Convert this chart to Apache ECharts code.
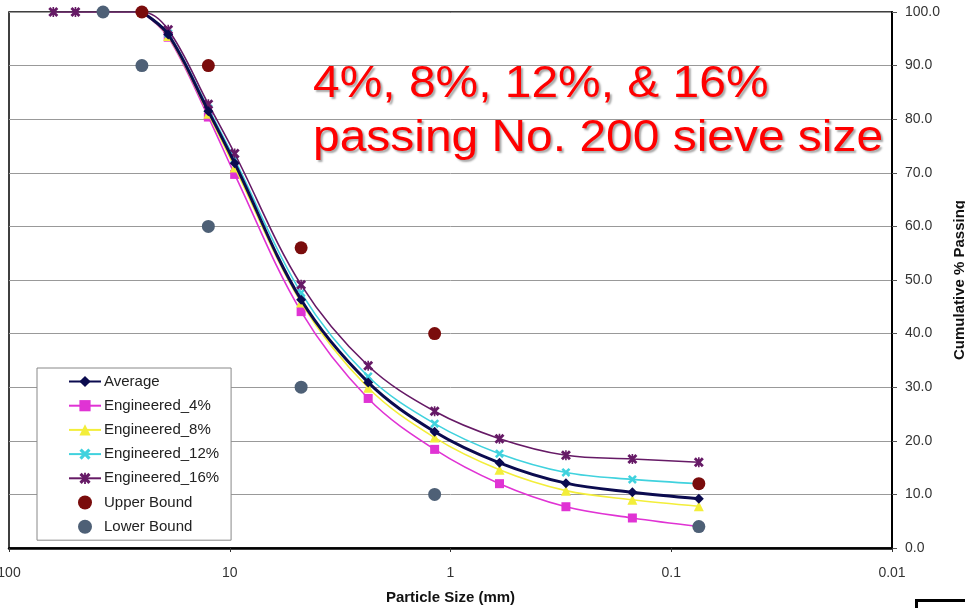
<!DOCTYPE html>
<html>
<head>
<meta charset="utf-8">
<script src="https://cdn.jsdelivr.net/npm/echarts@6/dist/echarts.min.js"></script>
<style>
  html, body { margin: 0; padding: 0; background: #fff; }
  #chart { width: 965px; height: 608px; }
</style>
</head>
<body>
<div id="chart"></div>
<script>
// Sieve sizes (mm)
const sievesLong = [63, 50, 37.5, 25, 19, 12.5, 9.5, 4.75, 2.36, 1.18, 0.6, 0.3, 0.15, 0.075];
const sieves = [25, 19, 12.5, 9.5, 4.75, 2.36, 1.18, 0.6, 0.3, 0.15, 0.075];

// Cumulative % passing for each gradation
const average = [100, 95.8, 81.5, 71.8, 46.3, 30.9, 21.7, 15.9, 12.1, 10.4, 9.2];
const engineered4 = [100, 95.3, 80.4, 69.7, 44.1, 27.9, 18.4, 12.0, 7.7, 5.6, 4.0];
const engineered8 = [100, 95.5, 81.0, 71.0, 45.8, 29.9, 20.6, 14.6, 10.7, 9.0, 7.8];
const engineered12 = [100, 96.0, 82.0, 72.5, 47.6, 32.0, 23.2, 17.6, 14.1, 12.8, 12.0];
const engineered16 = [100, 100, 100, 100, 96.7, 82.8, 73.6, 49.1, 34.0, 25.5, 20.4, 17.3, 16.6, 16.0];

// Specification band
const upperSieves = [25, 12.5, 4.75, 1.18, 0.075];
const upperBound = [100, 90, 56, 40, 12];
const lowerSieves = [37.5, 25, 12.5, 4.75, 1.18, 0.075];
const lowerBound = [100, 90, 60, 30, 10, 4];

// Axis tick labels
const xTicks = [100, 10, 1, 0.1, 0.01];

const pair = (xs, ys) => xs.map((x, i) => [x, ys[i]]);

const crossPath = 'path://M2,0L5,3L8,0L10,2L7,5L10,8L8,10L5,7L2,10L0,8L3,5L0,2Z';
const starPath = 'path://M2,0L5,3L8,0L10,2L7,5L10,8L8,10L5,7L2,10L0,8L3,5L0,2Z M4.2,0H5.8V10H4.2Z';

const FONT = '"Liberation Sans", Arial, sans-serif';

function lineSeries(name, xs, ys, color, symbol, size, width, z) {
  return {
    name, type: 'line', data: pair(xs, ys),
    smooth: 0.35,
    symbol, symbolSize: size, showSymbol: true,
    lineStyle: { color, width },
    itemStyle: { color },
    z,
    animation: false
  };
}

const chart = echarts.init(document.getElementById('chart'), null, { renderer: 'canvas' });
chart.setOption({
  backgroundColor: '#ffffff',
  animation: false,
  grid: {
    left: 9, right: 73, top: 12, bottom: 60,
    containLabel: false, outerBoundsMode: 'none',
    show: true, borderColor: '#000', borderWidth: 1.5, backgroundColor: 'transparent'
  },
  xAxis: {
    type: 'log', logBase: 10, min: 0.01, max: 100, inverse: true,
    name: 'Particle Size (mm)', nameLocation: 'middle', nameGap: 42,
    nameTextStyle: { fontFamily: FONT, fontWeight: 'bold', fontSize: 15, color: '#111' },
    axisLine: { lineStyle: { color: '#000', width: 2.5 } },
    axisTick: { show: true, length: 4, lineStyle: { color: '#333' } },
    axisLabel: {
      margin: 18, fontFamily: FONT, fontSize: 14, color: '#333',
      formatter: v => {
        const n = parseFloat(Number(v).toPrecision(4));
        return xTicks.includes(n) ? String(n) : '';
      }
    },
    splitLine: { show: false },
    minorTick: { show: false }
  },
  yAxis: {
    type: 'value', position: 'right', min: 0, max: 100, interval: 10,
    name: 'Cumulative % Passing', nameLocation: 'middle', nameRotate: 90, nameGap: 60,
    nameTextStyle: { fontFamily: FONT, fontWeight: 'bold', fontSize: 15, color: '#111' },
    axisLine: { show: true, lineStyle: { color: '#000', width: 2 } },
    axisTick: { show: true, length: 5, lineStyle: { color: '#555' } },
    axisLabel: { margin: 13, fontFamily: FONT, fontSize: 14, color: '#333', formatter: v => v.toFixed(1) },
    splitLine: { show: true, lineStyle: { color: '#999', width: 1 } }
  },
  legend: {
    orient: 'vertical', left: 37, top: 368,
    padding: [6, 12, 6, 31],
    itemGap: 9.2, itemWidth: 32, itemHeight: 14,
    backgroundColor: '#fff', borderColor: '#888', borderWidth: 1,
    textStyle: { fontFamily: FONT, fontSize: 15, lineHeight: 14, color: '#222', padding: [0, 0, 0, -2] },
    data: ['Average', 'Engineered_4%', 'Engineered_8%', 'Engineered_12%', 'Engineered_16%', 'Upper Bound', 'Lower Bound']
  },
  series: [
    lineSeries('Average', sieves, average, '#0b0b4f', 'diamond', 10, 3, 6),
    lineSeries('Engineered_4%', sieves, engineered4, '#e033d4', 'rect', 9, 1.6, 2),
    lineSeries('Engineered_8%', sieves, engineered8, '#f3ee3a', 'triangle', 10, 1.6, 3),
    lineSeries('Engineered_12%', sieves, engineered12, '#40d2de', crossPath, 9, 1.6, 4),
    lineSeries('Engineered_16%', sievesLong, engineered16, '#661a66', starPath, 10, 1.6, 5),
    {
      name: 'Upper Bound', type: 'scatter', data: pair(upperSieves, upperBound),
      symbol: 'circle', symbolSize: 13, itemStyle: { color: '#7a0c0c', opacity: 1 }, z: 7
    },
    {
      name: 'Lower Bound', type: 'scatter', data: pair(lowerSieves, lowerBound),
      symbol: 'circle', symbolSize: 13, itemStyle: { color: '#4e6076', opacity: 1 }, z: 7
    }
  ],
  graphic: [
    {
      type: 'text', left: 313, top: 58, z: 100,
      style: {
        text: '4%, 8%, 12%, & 16%\npassing No. 200 sieve size',
        fontFamily: FONT, fontSize: 45, lineHeight: 54,
        fill: '#ff0000',
        textShadowColor: 'rgba(0,0,0,0.35)', textShadowBlur: 2,
        textShadowOffsetX: 2, textShadowOffsetY: 2
      },
      scaleX: 1.065
    },
    {
      type: 'rect', left: 914, top: 598, z: 100,
      shape: { width: 60, height: 20 },
      style: { fill: 'none', stroke: '#000', lineWidth: 3 }
    }
  ]
});
</script>
</body>
</html>
